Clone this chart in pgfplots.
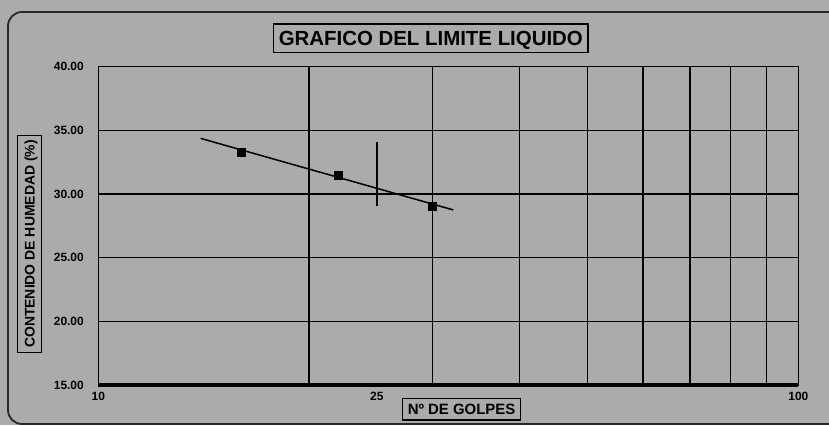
\documentclass[border=0pt]{standalone}
\usepackage{pgfplots}
\pgfplotsset{compat=1.18}
\usepackage{fontspec}
\setmainfont{Liberation Sans}
\definecolor{bg}{RGB}{171,171,171}
\definecolor{fr}{RGB}{40,40,40}
\begin{document}
\begin{tikzpicture}[x=1bp,y=1bp]
\useasboundingbox (0,0) rectangle (829,425);
\fill[bg] (0,0) rectangle (829,425);
\begin{scope}
\clip (0,0) rectangle (829,425);
\draw[fr, line width=1.8bp, rounded corners=14bp] (8,1) rectangle (850,413);
\end{scope}
\begin{axis}[
  at={(98.3bp,40bp)}, anchor=south west,
  scale only axis, width=700bp, height=318.5bp,
  xmode=log, xmin=10, xmax=100, ymin=15, ymax=40,
  xtick={10,25,100}, xticklabels={10,25,100},
  minor xtick={20,30,40,50,60,70,80,90},
  ytick={15,20,25,30,35,40}, yticklabels={15.00,20.00,25.00,30.00,35.00,40.00},
  xminorgrids=true, ymajorgrids=true, xmajorgrids=false,
  grid style={black, line width=1.3bp},
  minor grid style={black, line width=1.3bp},
  major tick length=0pt, minor tick length=0pt,
  axis line style={black, line width=1.5bp},
  clip=false,
  /pgf/number format/assume math mode=true,
  ticklabel style={font=\bfseries\fontsize{12}{13}\selectfont},
  yticklabel style={xshift=-11bp},
  xticklabel style={yshift=-4bp},
  every axis title shift=0pt,
  title={GRAFICO DEL LIMITE LIQUIDO},
  title style={at={(axis description cs:0.475,1.0886)}, anchor=center, draw=black, line width=1.3bp, font=\bfseries\fontsize{20.5}{24}\selectfont, text height=14.7bp, text depth=0bp, inner xsep=5bp, inner ysep=7bp},
  xlabel={Nº DE GOLPES},
  xlabel style={at={(axis description cs:0.519,-0.076)}, anchor=center, draw=black, line width=1.3bp, font=\bfseries\fontsize{15}{18}\selectfont, text height=10.7bp, text depth=0bp, inner xsep=5bp, inner ysep=5.5bp},
  ylabel={CONTENIDO DE HUMEDAD (\%)},
  ylabel style={at={(axis description cs:-0.0983,0.4427)}, anchor=center, rotate=0, draw=black, line width=1.3bp, font=\bfseries\fontsize{14}{16}\selectfont, text height=10bp, text depth=0bp, inner xsep=5bp, inner ysep=7bp},
]
\addplot[black, line width=1.5bp] coordinates {(14,34.36) (32.15,28.74)};
\addplot[only marks, mark=square*, mark size=4bp, black] coordinates {(16,33.3) (22,31.5) (30,29.05)};
\addplot[black, line width=1.5bp] coordinates {(25,29.05) (25,34.05)};
\draw[black, line width=3.5bp] (rel axis cs:0,0) -- (rel axis cs:1,0);
\end{axis}
\end{tikzpicture}
\end{document}
